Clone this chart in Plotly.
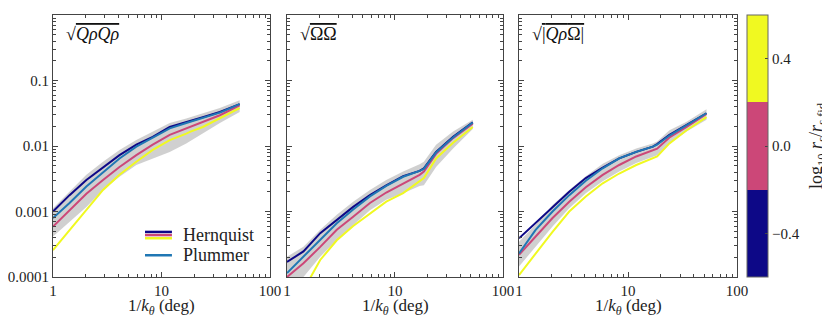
import numpy as np
import plotly.graph_objects as go
from plotly.subplots import make_subplots

# separation 1/k_theta in degrees
x_deg = [1, 1.42, 2.03, 2.89, 4.1, 5.86, 8.3, 11.9, 16.9, 18.5, 24, 34.5, 52.5]

# log10 amplitude
# panel 1: sqrt(Q rho Q rho)
qq_navy = [-3.0, -2.75, -2.52, -2.33, -2.14, -1.98, -1.86, -1.71, -1.64, -1.62, -1.56, -1.48, -1.36]
qq_pink = [-3.23, -2.98, -2.73, -2.52, -2.32, -2.14, -1.98, -1.83, -1.73, -1.70, -1.63, -1.53, -1.38]
qq_yellow = [-3.59, -3.28, -2.98, -2.67, -2.44, -2.24, -2.06, -1.91, -1.81, -1.78, -1.71, -1.58, -1.42]
qq_plummer = [-3.10, -2.87, -2.62, -2.41, -2.19, -2.01, -1.87, -1.73, -1.65, -1.63, -1.58, -1.49, -1.36]
qq_hi = [-2.95, -2.69, -2.44, -2.24, -2.06, -1.91, -1.78, -1.65, -1.58, -1.56, -1.50, -1.42, -1.30]
qq_lo = [-3.38, -3.16, -2.93, -2.67, -2.47, -2.29, -2.19, -2.09, -1.96, -1.92, -1.81, -1.65, -1.48]

# panel 2: sqrt(Omega Omega)
oo_navy = [-3.77, -3.61, -3.33, -3.13, -2.93, -2.75, -2.60, -2.46, -2.38, -2.34, -2.09, -1.86, -1.64]
oo_pink = [-4.0, -3.79, -3.54, -3.28, -3.08, -2.87, -2.71, -2.57, -2.44, -2.39, -2.12, -1.88, -1.66]
oo_yellow = [-4.6, -4.2, -3.74, -3.44, -3.22, -3.03, -2.85, -2.72, -2.54, -2.49, -2.19, -1.95, -1.71]
oo_plummer = [-3.94, -3.69, -3.44, -3.18, -2.97, -2.77, -2.61, -2.47, -2.38, -2.35, -2.10, -1.87, -1.64]
oo_hi = [-3.69, -3.54, -3.28, -3.05, -2.85, -2.67, -2.52, -2.39, -2.28, -2.24, -1.98, -1.78, -1.60]
oo_lo = [-4.15, -4.0, -3.69, -3.44, -3.21, -2.98, -2.82, -2.72, -2.61, -2.60, -2.32, -2.04, -1.74]

# panel 3: sqrt(|Q rho Omega|)
qo_navy = [-3.41, -3.18, -2.93, -2.70, -2.49, -2.33, -2.19, -2.09, -2.01, -1.97, -1.83, -1.68, -1.50]
qo_pink = [-3.66, -3.38, -3.10, -2.85, -2.63, -2.44, -2.29, -2.16, -2.07, -2.04, -1.87, -1.71, -1.51]
qo_yellow = [-3.97, -3.64, -3.31, -3.0, -2.77, -2.57, -2.42, -2.29, -2.19, -2.16, -1.96, -1.76, -1.56]
qo_plummer = [-3.64, -3.28, -3.0, -2.75, -2.53, -2.34, -2.19, -2.09, -2.01, -1.98, -1.84, -1.68, -1.50]
qo_hi = [-3.46, -3.2, -2.90, -2.67, -2.46, -2.27, -2.14, -2.04, -1.96, -1.93, -1.76, -1.63, -1.44]
qo_lo = [-3.84, -3.54, -3.23, -2.95, -2.72, -2.54, -2.39, -2.26, -2.16, -2.14, -1.96, -1.78, -1.60]

panel_labels = [
    "√<span style='text-decoration:overline'><i>QρQρ</i></span>",
    "√<span style='text-decoration:overline'>ΩΩ</span>",
    "√<span style='text-decoration:overline'>|<i>Qρ</i>Ω|</span>",
]
rs_levels = [-0.4, 0.0, 0.4]
rs_ticktext = ["−0.4", "0.0", "0.4"]

NAVY, PINK, YELLOW, BLUE = "#0d0887", "#cc4778", "#f0f921", "#2077b4"
FONT = "Liberation Serif"

panels = [
    (qq_navy, qq_pink, qq_yellow, qq_plummer, qq_hi, qq_lo),
    (oo_navy, oo_pink, oo_yellow, oo_plummer, oo_hi, oo_lo),
    (qo_navy, qo_pink, qo_yellow, qo_plummer, qo_hi, qo_lo),
]

fig = make_subplots(rows=1, cols=3, horizontal_spacing=0.02)
domains = [[0, 0.3173], [0.3421, 0.6579], [0.6813, 1.0]]

for i, (navy, pink, yellow, plum, hi, lo) in enumerate(panels, start=1):
    # grey envelope of the individual realisations
    fig.add_trace(go.Scatter(x=x_deg, y=10 ** np.array(hi), mode="lines",
                             line=dict(width=0), showlegend=False, hoverinfo="skip"),
                  row=1, col=i)
    fig.add_trace(go.Scatter(x=x_deg, y=10 ** np.array(lo), mode="lines",
                             line=dict(width=0), fill="tonexty",
                             fillcolor="rgba(200,200,200,0.85)",
                             showlegend=False, hoverinfo="skip"),
                  row=1, col=i)
    for vals, col in [(navy, NAVY), (yellow, YELLOW), (pink, PINK), (plum, BLUE)]:
        fig.add_trace(go.Scatter(x=x_deg, y=10 ** np.array(vals), mode="lines",
                                 line=dict(color=col, width=2), showlegend=False),
                      row=1, col=i)

    ax = dict(showgrid=False, zeroline=False, showline=True, linecolor="#444",
              linewidth=1, mirror="allticks", ticks="inside", ticklen=5,
              tickcolor="#444", type="log", automargin=False,
              tickfont=dict(family=FONT, size=15, color="#222"))
    fig.update_xaxes(range=[0, 2], tickvals=[1, 10, 100], ticktext=["1", "10", "100"],
                     minor=dict(ticks="inside", ticklen=3, tickcolor="#444",
                                tickvals=[m * d for d in (1, 10) for m in range(2, 10)]),
                     domain=domains[i - 1], row=1, col=i, **ax)
    fig.update_yaxes(range=[-4, 0], tickvals=[1, 0.1, 0.01, 0.001, 0.0001],
                     ticktext=["1", "0.1", "0.01", "0.001", "0.0001"] if i == 1 else [""] * 5,
                     minor=dict(ticks="inside", ticklen=3, tickcolor="#444",
                                tickvals=[m * d for d in (1e-4, 1e-3, 1e-2, 1e-1) for m in range(2, 10)]),
                     row=1, col=i, **ax)
    sfx = str(i) if i > 1 else ""
    fig.add_annotation(text=panel_labels[i - 1], xref=f"x{sfx} domain",
                       yref=f"y{sfx} domain", x=0.05, y=0.975,
                       xanchor="left", yanchor="top", showarrow=False,
                       font=dict(family=FONT, size=18, color="#111"))
    fig.add_annotation(text="1/<i>k</i><sub><i>θ</i></sub> (deg)", xref=f"x{sfx} domain",
                       yref="paper", x=0.5, y=-0.116, xanchor="center", yanchor="middle",
                       showarrow=False, font=dict(family=FONT, size=17, color="#222"))

# colourbar for log10 r_s / r_s,fid
fig.add_trace(go.Scatter(
    x=[None] * 3, y=[None] * 3, mode="markers", showlegend=False,
    marker=dict(color=rs_levels, cmin=-0.6, cmax=0.6,
                colorscale=[[0, NAVY], [1 / 3, NAVY], [1 / 3, PINK], [2 / 3, PINK],
                            [2 / 3, YELLOW], [1, YELLOW]],
                colorbar=dict(x=1.0146, xanchor="left", y=0.5, yanchor="middle",
                              len=1, lenmode="fraction", thickness=21, xpad=0, ypad=0,
                              thicknessmode="pixels", outlinecolor="#666",
                              outlinewidth=1, tickvals=rs_levels, ticktext=rs_ticktext,
                              ticks="inside", ticklen=3, tickcolor="#444",
                              tickfont=dict(family=FONT, size=15, color="#222")))),
    row=1, col=1)
fig.add_annotation(text="log<sub>10</sub> <i>r<sub>s</sub></i>/<i>r</i><sub><i>s</i>,fid</sub>",
                   xref="paper", yref="paper", x=1.117, y=0.5, textangle=-90,
                   xanchor="center", yanchor="middle", showarrow=False,
                   font=dict(family=FONT, size=18, color="#222"))

# legend drawn inside panel 1
for dy, col in [(0.012, NAVY), (0.0, PINK), (-0.012, YELLOW)]:
    fig.add_shape(type="line", xref="x domain", yref="y domain",
                  x0=0.424, x1=0.548, y0=0.16 + dy, y1=0.16 + dy,
                  line=dict(color=col, width=2.5))
fig.add_shape(type="line", xref="x domain", yref="y domain",
              x0=0.424, x1=0.548, y0=0.083, y1=0.083, line=dict(color=BLUE, width=2.5))
for yy, txt in [(0.16, "Hernquist"), (0.083, "Plummer")]:
    fig.add_annotation(text=txt, xref="x domain", yref="y domain", x=0.59, y=yy,
                       xanchor="left", yanchor="middle", showarrow=False,
                       font=dict(family=FONT, size=18, color="#222"))

# the page puts an 8px body margin round the plot, so the figure is 8px smaller
fig.update_layout(width=822, height=313, margin=dict(l=45, r=93, t=7, b=44, autoexpand=False),
                  plot_bgcolor="white", paper_bgcolor="white", showlegend=False,
                  font=dict(family=FONT))
fig.write_html("out.html")
